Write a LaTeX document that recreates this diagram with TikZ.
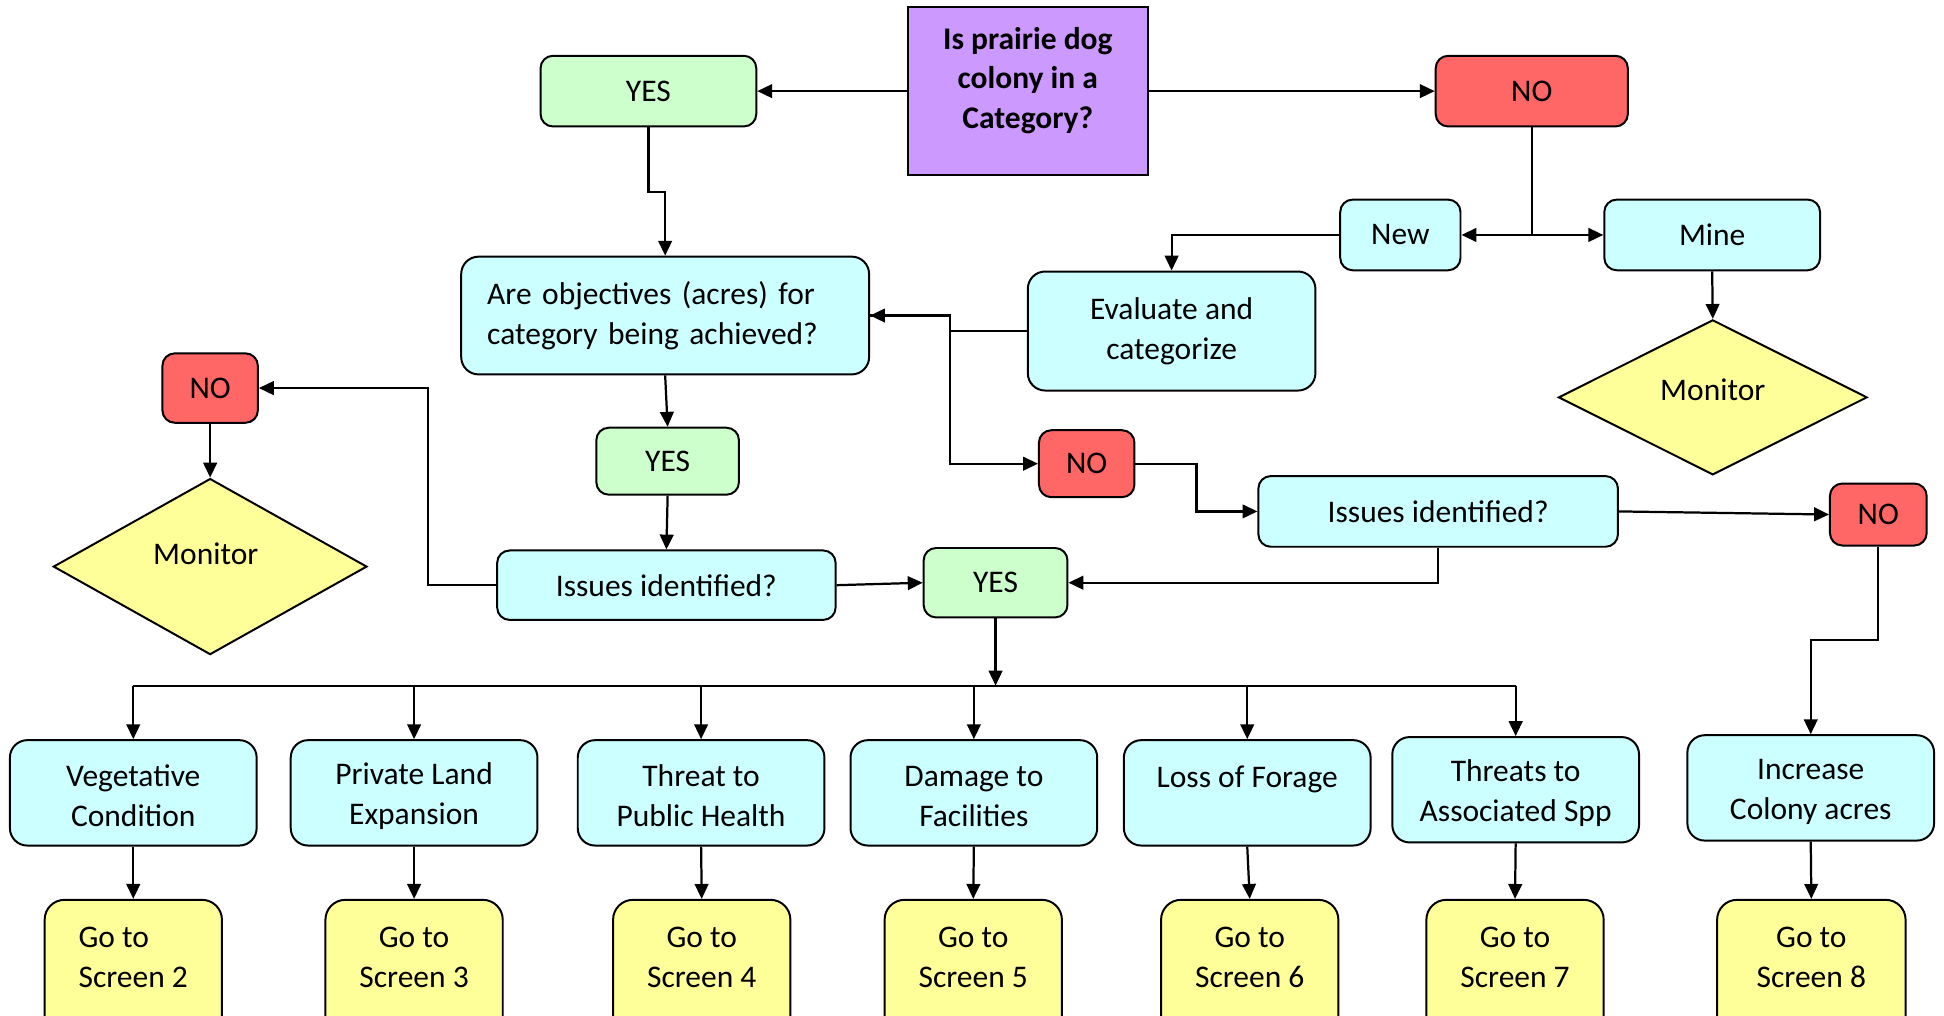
\documentclass[tikz,border=0pt]{standalone}
\usepackage{fontspec}
\setmainfont{Carlito}
\usetikzlibrary{arrows.meta,shapes.geometric}
\definecolor{purp}{RGB}{204,153,255}
\definecolor{greenc}{RGB}{204,255,204}
\definecolor{redc}{RGB}{255,102,102}
\definecolor{cyanc}{RGB}{204,255,255}
\definecolor{yellc}{RGB}{255,255,153}
\begin{document}
\begin{tikzpicture}[x=0.5pt,y=-0.5pt,
 base/.style={draw, line width=0.8pt, inner sep=0pt, align=center, font=\fontsize{12.7}{16.1}\selectfont},
 rbox/.style={base, rounded corners=5pt},
 yesbox/.style={rbox, fill=greenc},
 nobox/.style={rbox, fill=redc},
 cbox/.style={rbox, fill=cyanc},
 catbox/.style={cbox, rounded corners=7pt, minimum width=99.5pt, minimum height=42.5pt},
 gobox/.style={base, rounded corners=8pt, fill=yellc, minimum width=71.5pt, minimum height=67.5pt, anchor=north},
 dmd/.style={diamond, draw, line width=0.8pt, fill=yellc, inner sep=0pt},
 txt/.style={inner sep=0pt, align=center, font=\fontsize{12.7}{16.1}\selectfont},
 conn/.style={line width=0.9pt, -{Triangle[length=6pt,width=5.5pt]}},
 plain/.style={line width=0.9pt}
]
\useasboundingbox (0,0) rectangle (1568,819);
\clip (0,0) rectangle (1568,819);

% top
\node[base, fill=purp, minimum width=97pt, minimum height=67.5pt] (q0) at (829,73.5) {};
\node[txt, font=\fontsize{12.7}{16.1}\selectfont\bfseries] (q0t) at (829,65) {Is prairie dog\\colony in a\\Category?};
\node[yesbox, minimum width=87pt, minimum height=28.5pt] (yes1) at (523,73.5) {YES};
\node[nobox, minimum width=77.5pt, minimum height=28.5pt] (not) at (1235.5,73.5) {NO};
\node[cbox, minimum width=48.5pt, minimum height=28.5pt] (new) at (1129.5,189.5) {New};
\node[cbox, minimum width=87pt, minimum height=28.5pt] (mine) at (1381,189.5) {Mine};
\node[cbox, rounded corners=7pt, minimum width=116pt, minimum height=48pt] (eval) at (945,267) {Evaluate and\\categorize};
\node[cbox, rounded corners=7pt, text width=143.5pt, inner xsep=10.5pt, align=left, minimum height=47.5pt] (q1) at (536.5,254.5) {Are objectives (acres) for\\category being achieved?};
\node[dmd, minimum width=124.5pt, minimum height=62.5pt] (mon2) at (1381.5,320.5) {};
\node[txt] (mon2t) at (1381.5,314) {Monitor};
\node[nobox, minimum width=38.5pt, minimum height=28pt] (nol) at (169.5,313) {NO};
\node[dmd, minimum width=126.5pt, minimum height=71pt] (mon1) at (169.5,457) {};
\node[txt] (mon1t) at (166,447) {Monitor};
\node[yesbox, minimum width=57.5pt, minimum height=27pt] (yes2) at (538.5,372) {YES};
\node[nobox, minimum width=38.5pt, minimum height=27pt] (no2) at (876.5,374) {NO};
\node[cbox, minimum width=145pt, minimum height=28.5pt] (iss2) at (1160,412.5) {Issues identified?};
\node[nobox, minimum width=39pt, minimum height=25pt] (no3) at (1515,415) {NO};
\node[cbox, minimum width=136.5pt, minimum height=28pt] (iss1) at (537.5,472) {Issues identified?};
\node[yesbox, minimum width=58pt, minimum height=28pt] (yes3) at (803,470) {YES};

% categories
\node[catbox] (c1) at (107.5,639.5) {\strut Vegetative\\Condition};
\node[catbox] (c2) at (334,639.5) {\strut Private Land\\Expansion};
\node[catbox] (c3) at (565.5,639.5) {\strut Threat to\\Public Health};
\node[catbox] (c4) at (785.5,639.5) {\strut Damage to\\Facilities};
\node[catbox] (c5) at (1006,639.5) {\strut Loss of Forage\\[-5pt]\strut};
\node[catbox] (c6) at (1222.5,637) {\strut Threats to\\Associated Spp};
\node[catbox] (inc) at (1460.5,635.5) {\strut Increase\\Colony acres};

% go boxes
\node[gobox, align=left] (g1) at (107.5,725) {Go to\\Screen 2\\\strut};
\node[gobox] (g2) at (334,725) {Go to\\Screen 3\\\strut};
\node[gobox] (g3) at (566,725) {Go to\\Screen 4\\\strut};
\node[gobox] (g4) at (785,725) {Go to\\Screen 5\\\strut};
\node[gobox] (g5) at (1008,725) {Go to\\Screen 6\\\strut};
\node[gobox] (g6) at (1222,725) {Go to\\Screen 7\\\strut};
\node[gobox, minimum width=76pt] (g7) at (1461,725) {Go to\\Screen 8\\\strut};

% connectors
\draw[conn] (q0.west) -- (yes1.east);
\draw[conn] (q0.east) -- (not.west);
\draw[conn] (yes1.south) -- (523,155) -| (q1.north);
\coordinate (j1) at (not.south |- new.east);
\draw[plain] (not.south) -- (j1);
\draw[conn] (j1) -- (new.east);
\draw[conn] (j1) -- (mine.west);
\draw[conn] (new.west) -| (eval.north);
\draw[conn] (mine.south) -- (mon2.north);
\draw[conn] (eval.west) -- (766,267) |- (q1.east);
\draw[conn] (q1.east) -- (766,254.5) |- (no2.west);
\draw[conn] (q1.south) -- (yes2.north);
\draw[conn] (yes2.south) -- (iss1.north);
\draw[conn] (iss1.west) -- ++(-55,0) |- (nol.east);
\draw[conn] (nol.south) -- (mon1.north);
\draw[conn] (iss1.east) -- (yes3.west);
\draw[conn] (no2.east) -- (965,374) |- (iss2.west);
\draw[conn] (iss2.east) -- (no3.west);
\draw[conn] (iss2.south) |- (yes3.east);
\draw[conn] (no3.south) -- (1515,516) -| (inc.north);
\draw[conn] (inc.south) -- (g7.north);

\coordinate (bus) at (803,553);
\draw[conn] (yes3.south) -- (bus);
\draw[plain] (c1.north |- bus) -- (c6.north |- bus);
\foreach \c in {c1,c2,c3,c4,c5,c6} \draw[conn] (\c.north |- bus) -- (\c.north);
\draw[conn] (c1.south) -- (g1.north);
\draw[conn] (c2.south) -- (g2.north);
\draw[conn] (c3.south) -- (g3.north);
\draw[conn] (c4.south) -- (g4.north);
\draw[conn] (c5.south) -- (g5.north);
\draw[conn] (c6.south) -- (g6.north);
\end{tikzpicture}
\end{document}
